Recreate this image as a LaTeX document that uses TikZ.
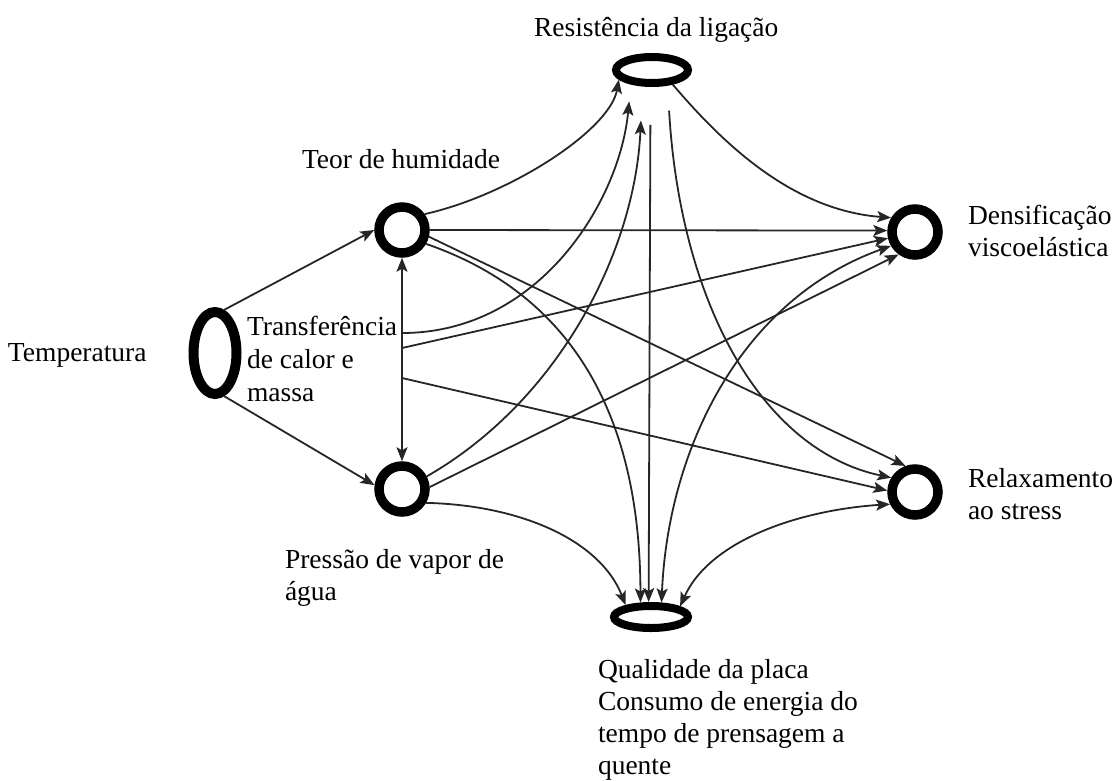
\documentclass[tikz,border=0pt]{standalone}
\usepackage{fontspec}
\setmainfont{Liberation Serif}
\usetikzlibrary{shapes.geometric,arrows.meta}
\begin{document}
\begin{tikzpicture}[x=1pt,y=-1pt,
  lbl/.style={font=\fontsize{27.5}{32}\selectfont, align=left, inner sep=0pt, outer sep=0pt},
  ring/.style={circle, draw=black, line width=9.5pt, minimum size=46pt, inner sep=0pt, outer sep=4.75pt},
  oval/.style={ellipse, draw=black, line width=8pt, inner sep=0pt, outer sep=4pt},
  tip/.tip={Stealth[length=14pt,width=11pt,inset=3pt]},
  link/.style={draw=black!85, line width=1.8pt, -tip},
  twoway/.style={draw=black!85, line width=1.8pt, tip-tip}]
\useasboundingbox (0,0) rectangle (1119,780);

% state nodes
\node[oval, line width=10pt, outer sep=5pt, minimum width=43pt, minimum height=82pt] (T) at (215,353) {};
\node[ring] (H) at (402,230) {};
\node[ring] (P) at (402,489) {};
\node[ring] (D) at (915,232) {};
\node[ring] (S) at (915,492) {};
\node[oval, minimum width=72pt, minimum height=26pt] (R) at (652,70) {};
\node[oval, minimum width=74pt, minimum height=22pt] (Q) at (651,617) {};

% labels (multi-line labels are placed by the baseline of their last line)
\node[lbl, anchor=base west] (lR) at (534,36) {Resistência da ligação};
\node[lbl, anchor=base west] (lH) at (302,168) {Teor de humidade};
\node[lbl, anchor=base west] (lT) at (8,361) {Temperatura};
\node[lbl, font=\fontsize{27.5}{33}\selectfont, anchor=base west] (lX) at (247,401) {Transferência\\de calor e\\massa};
\node[lbl, anchor=base west] (lD) at (968,256) {Densificação\\viscoelástica};
\node[lbl, anchor=base west] (lS) at (968,519) {Relaxamento\\ao stress};
\node[lbl, anchor=base west] (lP) at (285,600) {Pressão de vapor de\\água};
\node[lbl, anchor=base west] (lQ) at (598,774) {Qualidade da placa\\Consumo de energia do\\tempo de prensagem a\\quente};

% points on the heat and mass transfer link
\coordinate (t1) at (402,333);
\coordinate (t2) at (402,348);
\coordinate (t3) at (402,378);

% temperature
\draw[link] (T.78) -- (H.180);
\draw[link] (T.-78) -- (P.172);

% moisture content and vapour pressure
\draw[twoway] (H.south) -- (P.north);
\draw[link] (H.35) .. controls (510,195) and (610,130) .. (R.196);
\draw[link] (H.0) -- (D.177);
\draw[link] (H.-14) -- (S.110);
\draw[link] (H.-30) .. controls (560,290) and (640,400) .. (Q.126);

% heat and mass transfer
\draw[link, shorten >=17pt] (t1) .. controls (540,333) and (620,200) .. (R.214);
\draw[link] (t2) -- (D.193);
\draw[link] (t3) -- (S.177);

% vapour pressure
\draw[link, shorten >=34pt] (P.27) .. controls (560,400) and (635,250) .. (R.240);
\draw[link] (P.4) -- (D.234);
\draw[link] (P.-30) .. controls (520,505) and (600,540) .. (Q.155);

% bond strength
\draw[link] (R.-35) .. controls (720,140) and (790,210) .. (D.149);
\draw[link, shorten <=38pt] (R.-95) -- (Q.99);
\draw[link, shorten <=25pt] (R.-45) .. controls (680,300) and (760,450) .. (S.149);

% board quality
\draw[twoway] (Q.54) .. controls (668,450) and (740,300) .. (D.210);
\draw[twoway] (Q.20) .. controls (710,540) and (800,510) .. (S.206);
\end{tikzpicture}
\end{document}
